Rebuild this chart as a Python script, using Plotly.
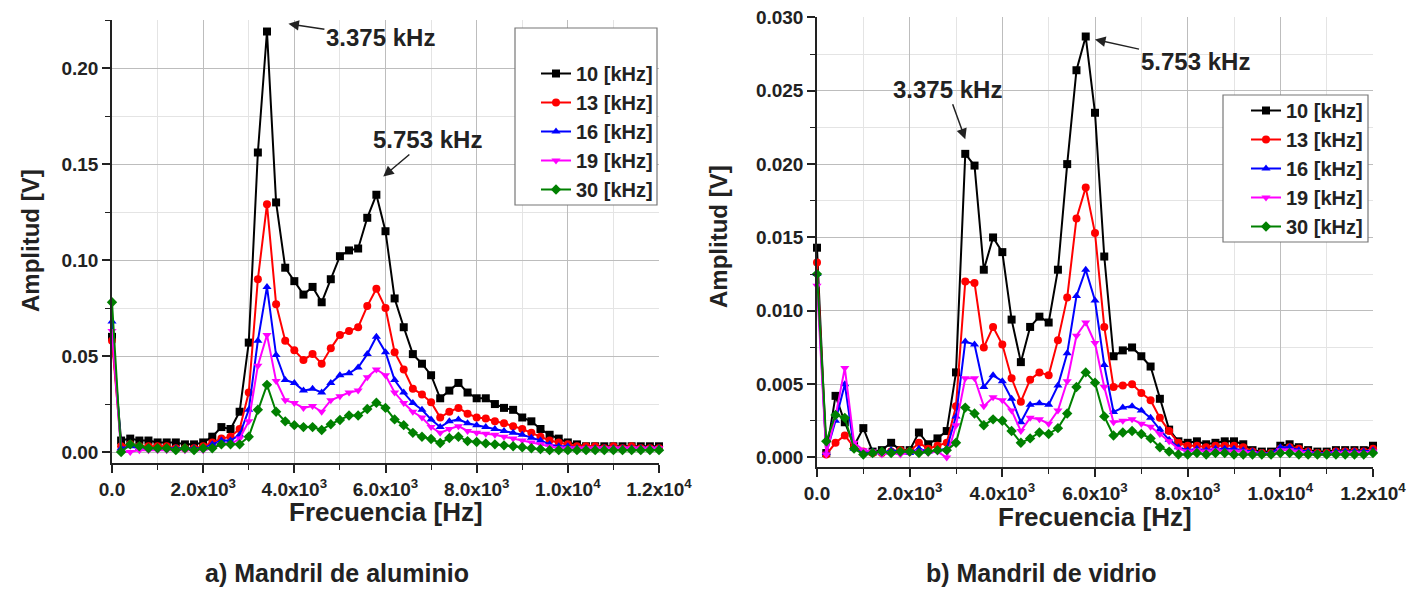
import plotly.graph_objects as go

# ---------------- data ----------------
FREQ = [i * 200 for i in range(61)]  # Hz, 200 Hz resolution, 0 .. 12 kHz
SERIES_NAMES = ["10 [kHz]", "13 [kHz]", "16 [kHz]", "19 [kHz]", "30 [kHz]"]

# a) Mandril de aluminio
AL_10 = [0.060, 0.006, 0.007, 0.006, 0.006, 0.005, 0.005, 0.005, 0.004, 0.004,
         0.005, 0.008, 0.013, 0.012, 0.021, 0.057, 0.156, 0.219, 0.130, 0.096,
         0.089, 0.082, 0.086, 0.078, 0.090, 0.102, 0.105, 0.106, 0.122, 0.134,
         0.115, 0.080, 0.065, 0.051, 0.046, 0.040, 0.028, 0.032, 0.036, 0.031,
         0.028, 0.028, 0.025, 0.023, 0.022, 0.018, 0.016, 0.012, 0.009, 0.007,
         0.005, 0.004, 0.003, 0.003, 0.003, 0.003, 0.003, 0.003, 0.003, 0.003, 0.003]
AL_13 = [0.058, 0.003, 0.004, 0.003, 0.003, 0.003, 0.003, 0.002, 0.002, 0.002,
         0.003, 0.005, 0.007, 0.008, 0.012, 0.031, 0.090, 0.129, 0.077, 0.058,
         0.053, 0.048, 0.051, 0.046, 0.054, 0.061, 0.063, 0.065, 0.076, 0.085,
         0.075, 0.052, 0.043, 0.033, 0.030, 0.026, 0.018, 0.021, 0.023, 0.020,
         0.018, 0.0175, 0.016, 0.015, 0.0135, 0.012, 0.010, 0.008, 0.006, 0.005,
         0.004, 0.003, 0.003, 0.003, 0.002, 0.003, 0.002, 0.003, 0.002, 0.002, 0.002]
AL_16 = [0.068, 0.002, 0.003, 0.002, 0.002, 0.002, 0.002, 0.002, 0.002, 0.002,
         0.002, 0.004, 0.006, 0.006, 0.009, 0.022, 0.058, 0.086, 0.0505, 0.0375,
         0.036, 0.032, 0.033, 0.031, 0.036, 0.040, 0.041, 0.044, 0.051, 0.060,
         0.052, 0.0375, 0.031, 0.0255, 0.022, 0.017, 0.013, 0.016, 0.017, 0.015,
         0.014, 0.013, 0.012, 0.011, 0.010, 0.009, 0.0075, 0.006, 0.004, 0.003,
         0.003, 0.002, 0.002, 0.002, 0.002, 0.002, 0.002, 0.002, 0.002, 0.002, 0.002]
AL_19 = [0.063, 0.000, 0.000, 0.001, 0.001, 0.001, 0.001, 0.001, 0.001, 0.001,
         0.001, 0.002, 0.004, 0.004, 0.007, 0.016, 0.045, 0.061, 0.037, 0.027,
         0.0255, 0.023, 0.024, 0.021, 0.027, 0.029, 0.031, 0.032, 0.039, 0.043,
         0.040, 0.031, 0.0255, 0.021, 0.018, 0.013, 0.010, 0.012, 0.0135, 0.011,
         0.010, 0.0095, 0.009, 0.008, 0.007, 0.006, 0.005, 0.004, 0.003, 0.002,
         0.002, 0.002, 0.002, 0.002, 0.002, 0.002, 0.002, 0.002, 0.002, 0.002, 0.002]
AL_30 = [0.078, 0.000, 0.004, 0.003, 0.002, 0.002, 0.002, 0.001, 0.002, 0.001,
         0.002, 0.002, 0.004, 0.004, 0.004, 0.008, 0.022, 0.035, 0.021, 0.016,
         0.014, 0.013, 0.013, 0.0115, 0.0145, 0.0167, 0.019, 0.019, 0.0224, 0.0257,
         0.023, 0.017, 0.014, 0.010, 0.008, 0.0068, 0.0047, 0.0073, 0.008, 0.0057,
         0.0052, 0.0045, 0.004, 0.0035, 0.003, 0.0025, 0.002, 0.0015, 0.001, 0.001,
         0.001, 0.001, 0.001, 0.001, 0.001, 0.001, 0.001, 0.001, 0.001, 0.001, 0.001]

# b) Mandril de vidrio
VI_10 = [0.0143, 0.0003, 0.0042, 0.0024, 0.0008, 0.0020, 0.0004, 0.0005, 0.0010, 0.0005,
         0.0005, 0.0017, 0.0009, 0.0013, 0.0018, 0.0058, 0.0207, 0.0199, 0.0128, 0.0150,
         0.0140, 0.0094, 0.0065, 0.0089, 0.0096, 0.0092, 0.0128, 0.0200, 0.0264, 0.0287,
         0.0235, 0.0137, 0.0069, 0.0073, 0.0075, 0.0069, 0.0062, 0.0040, 0.0019, 0.0011,
         0.0010, 0.0011, 0.0009, 0.0010, 0.0011, 0.0011, 0.0009, 0.0005, 0.0004, 0.0004,
         0.0008, 0.0009, 0.0007, 0.0005, 0.0004, 0.0004, 0.0005, 0.0005, 0.0005, 0.0005, 0.0008]
VI_13 = [0.0133, 0.0002, 0.0010, 0.0015, 0.0007, 0.0004, 0.0003, 0.0003, 0.0004, 0.0005,
         0.0004, 0.0010, 0.0006, 0.0008, 0.0010, 0.0035, 0.0120, 0.0119, 0.0075, 0.0089,
         0.0077, 0.0054, 0.0038, 0.0053, 0.0058, 0.0056, 0.0080, 0.0109, 0.0163, 0.0184,
         0.0153, 0.0089, 0.0048, 0.0049, 0.0050, 0.0044, 0.0039, 0.0027, 0.0018, 0.0010,
         0.0008, 0.0008, 0.0007, 0.0008, 0.0008, 0.0008, 0.0007, 0.0004, 0.0003, 0.0003,
         0.0006, 0.0007, 0.0006, 0.0004, 0.0003, 0.0003, 0.0004, 0.0004, 0.0004, 0.0004, 0.0006]
VI_16 = [0.0125, 0.0003, 0.0025, 0.0050, 0.0006, 0.0003, 0.0004, 0.0003, 0.0005, 0.0004,
         0.0003, 0.0006, 0.0004, 0.0005, 0.0006, 0.0028, 0.0079, 0.0077, 0.0048, 0.0056,
         0.0052, 0.0040, 0.0024, 0.0036, 0.0037, 0.0036, 0.0049, 0.0071, 0.0110, 0.0128,
         0.0107, 0.0063, 0.0031, 0.0034, 0.0035, 0.0032, 0.0027, 0.0019, 0.0012, 0.0007,
         0.0005, 0.0006, 0.0005, 0.0006, 0.0006, 0.0006, 0.0005, 0.0004, 0.0003, 0.0003,
         0.0007, 0.0007, 0.0005, 0.0004, 0.0003, 0.0003, 0.0004, 0.0004, 0.0004, 0.0004, 0.0005]
VI_19 = [0.0117, 0.0002, 0.0028, 0.0061, 0.0010, 0.0005, 0.0004, 0.0002, 0.0003, 0.0002,
         0.0003, 0.0004, 0.0003, 0.0004, 0.0000, 0.0022, 0.0054, 0.0054, 0.0035, 0.0041,
         0.0039, 0.0032, 0.0018, 0.0027, 0.0026, 0.0023, 0.0032, 0.0052, 0.0083, 0.0092,
         0.0078, 0.0048, 0.0024, 0.0025, 0.0026, 0.0023, 0.0021, 0.0016, 0.0011, 0.0006,
         0.0004, 0.0005, 0.0004, 0.0005, 0.0004, 0.0004, 0.0004, 0.0003, 0.0002, 0.0002,
         0.0005, 0.0005, 0.0004, 0.0003, 0.0002, 0.0002, 0.0003, 0.0003, 0.0003, 0.0003, 0.0004]
VI_30 = [0.0125, 0.0011, 0.0029, 0.0027, 0.0006, 0.0002, 0.0003, 0.0004, 0.0003, 0.0004,
         0.0004, 0.0003, 0.0004, 0.0005, 0.0005, 0.0010, 0.0034, 0.0030, 0.0022, 0.0026,
         0.0025, 0.0018, 0.0010, 0.0013, 0.0017, 0.0016, 0.0020, 0.0030, 0.0048, 0.0058,
         0.0051, 0.0028, 0.0015, 0.0017, 0.0018, 0.0016, 0.0013, 0.0007, 0.0004, 0.0002,
         0.0002, 0.0003, 0.0002, 0.0003, 0.0003, 0.0002, 0.0002, 0.0002, 0.0002, 0.0002,
         0.0003, 0.0003, 0.0002, 0.0002, 0.0002, 0.0002, 0.0002, 0.0002, 0.0002, 0.0002, 0.0003]

X_TICKVALS = [0, 2000, 4000, 6000, 8000, 10000, 12000]
X_TICKTEXT = ["0.0", "2.0x10<sup>3</sup>", "4.0x10<sup>3</sup>", "6.0x10<sup>3</sup>",
              "8.0x10<sup>3</sup>", "1.0x10<sup>4</sup>", "1.2x10<sup>4</sup>"]

# ---------------- style ----------------
W, H = 1425, 589
OFF = 8  # page body margin in the browser
FONT = "Liberation Sans, Arial, sans-serif"
COLORS = ["#000000", "#ff0000", "#0000ff", "#ff00ff", "#008000"]
SYMBOLS = ["square", "circle", "triangle-up", "triangle-down", "diamond"]


def px(xp):
    return (xp - OFF) / W


def py(yp):
    return 1 - (yp - OFF) / H


fig = go.Figure()

for k, (name, vals) in enumerate(zip(SERIES_NAMES, [AL_10, AL_13, AL_16, AL_19, AL_30])):
    fig.add_trace(go.Scatter(
        x=FREQ, y=vals, mode="lines+markers", name=name,
        line=dict(color=COLORS[k], width=2),
        marker=dict(symbol=SYMBOLS[k], size=8, color=COLORS[k]),
        xaxis="x", yaxis="y", legend="legend", legendgroup="a%d" % k,
        cliponaxis=False))

for k, (name, vals) in enumerate(zip(SERIES_NAMES, [VI_10, VI_13, VI_16, VI_19, VI_30])):
    fig.add_trace(go.Scatter(
        x=FREQ, y=vals, mode="lines+markers", name=name,
        line=dict(color=COLORS[k], width=2),
        marker=dict(symbol=SYMBOLS[k], size=8, color=COLORS[k]),
        xaxis="x2", yaxis="y2", legend="legend2", legendgroup="b%d" % k,
        cliponaxis=False))

tickfont = dict(family=FONT, size=19, color="#222", weight="bold")


def xaxis(domain, anchor):
    return dict(domain=domain, anchor=anchor, range=[0, 12000], automargin=False,
                tickvals=X_TICKVALS, ticktext=X_TICKTEXT, tickfont=tickfont,
                ticklabeloverflow="allow",
                showline=True, linecolor="#222", linewidth=1.5,
                ticks="outside", ticklen=8, tickwidth=1.5, tickcolor="#222",
                showgrid=True, gridcolor="#bdbdbd", gridwidth=1.3, zeroline=False,
                minor=dict(dtick=1000, ticks="outside", ticklen=5, tickwidth=1.2,
                           tickcolor="#222", showgrid=True, gridcolor="#e4e4e4", gridwidth=1))


def yaxis(domain, anchor, rng, dtick, mdtick, fmt):
    return dict(domain=domain, anchor=anchor, range=rng, tick0=0, dtick=dtick,
                tickformat=fmt, tickfont=tickfont, automargin=False,
                ticklabeloverflow="allow",
                showline=True, linecolor="#222", linewidth=1.5,
                ticks="outside", ticklen=8, tickwidth=1.5, tickcolor="#222",
                showgrid=True, gridcolor="#bdbdbd", gridwidth=1.3, zeroline=False,
                minor=dict(tick0=0, dtick=mdtick, ticks="outside", ticklen=5, tickwidth=1.2,
                           tickcolor="#222", showgrid=True, gridcolor="#e4e4e4", gridwidth=1))


legfont = dict(family=FONT, size=20, color="#222", weight="bold")

fig.update_layout(
    width=W, height=H,
    margin=dict(l=0, r=0, t=0, b=0, autoexpand=False),
    paper_bgcolor="white", plot_bgcolor="white",
    xaxis=xaxis([px(112), px(659)], "y"),
    yaxis=yaxis([py(463), py(20)], "x", [-0.0057, 0.225], 0.05, 0.025, ".2f"),
    xaxis2=xaxis([px(817), px(1373)], "y2"),
    yaxis2=yaxis([py(467), py(17)], "x2", [-0.00065, 0.03003], 0.005, 0.0025, ".3f"),
    legend=dict(x=px(536), y=py(54), xanchor="left", yanchor="top",
                bgcolor="rgba(0,0,0,0)", borderwidth=0, font=legfont,
                traceorder="grouped", tracegroupgap=0, itemwidth=30),
    legend2=dict(x=px(1246), y=py(91), xanchor="left", yanchor="top",
                 bgcolor="rgba(0,0,0,0)", borderwidth=0, font=legfont,
                 traceorder="grouped", tracegroupgap=0, itemwidth=30),
    shapes=[
        dict(type="rect", xref="paper", yref="paper", layer="above",
             x0=px(515), x1=px(657), y0=py(205), y1=py(28),
             line=dict(color="#777", width=1.2), fillcolor="white"),
        dict(type="rect", xref="paper", yref="paper", layer="above",
             x0=px(1223), x1=px(1368), y0=py(242), y1=py(95),
             line=dict(color="#777", width=1.2), fillcolor="white"),
    ],
)

annfont = dict(family=FONT, size=24, color="#222", weight="bold")
ytitlefont = dict(family=FONT, size=24, color="#222", weight="bold")
xtitlefont = dict(family=FONT, size=26, color="#222", weight="bold")
capfont = dict(family=FONT, size=25, color="#222", weight="bold")
arrow = dict(showarrow=True, arrowhead=2, arrowsize=1.4, arrowwidth=1.5, arrowcolor="#222")
ctr = dict(xref="paper", yref="paper", xanchor="center", yanchor="middle", showarrow=False)

annotations = [
    # peak labels (arrow tip in data coords, text offset in pixels)
    dict(x=3870, y=0.223, xref="x", yref="y", text="3.375 kHz", ax=92, ay=14, font=annfont, **arrow),
    dict(x=5950, y=0.1435, xref="x", yref="y", text="5.753 kHz", ax=44, ay=-37, font=annfont, **arrow),
    dict(x=3200, y=0.0217, xref="x2", yref="y2", text="3.375 kHz", ax=-18, ay=-50, font=annfont, **arrow),
    dict(x=6000, y=0.0285, xref="x2", yref="y2", text="5.753 kHz", ax=100, ay=22, font=annfont, **arrow),
    # axis titles
    dict(x=px(30), y=py(241), text="Amplitud [V]", textangle=-90, font=ytitlefont, **ctr),
    dict(x=px(718), y=py(237), text="Amplitud [V]", textangle=-90, font=ytitlefont, **ctr),
    dict(x=px(386), y=py(512), text="Frecuencia [Hz]", font=xtitlefont, **ctr),
    dict(x=px(1095), y=py(517), text="Frecuencia [Hz]", font=xtitlefont, **ctr),
    # captions
    dict(x=px(337), y=py(573), text="a) Mandril de aluminio", font=capfont, **ctr),
    dict(x=px(1041), y=py(573), text="b) Mandril de vidrio", font=capfont, **ctr),
]
fig.update_layout(annotations=annotations)

fig.write_html("out.html")
